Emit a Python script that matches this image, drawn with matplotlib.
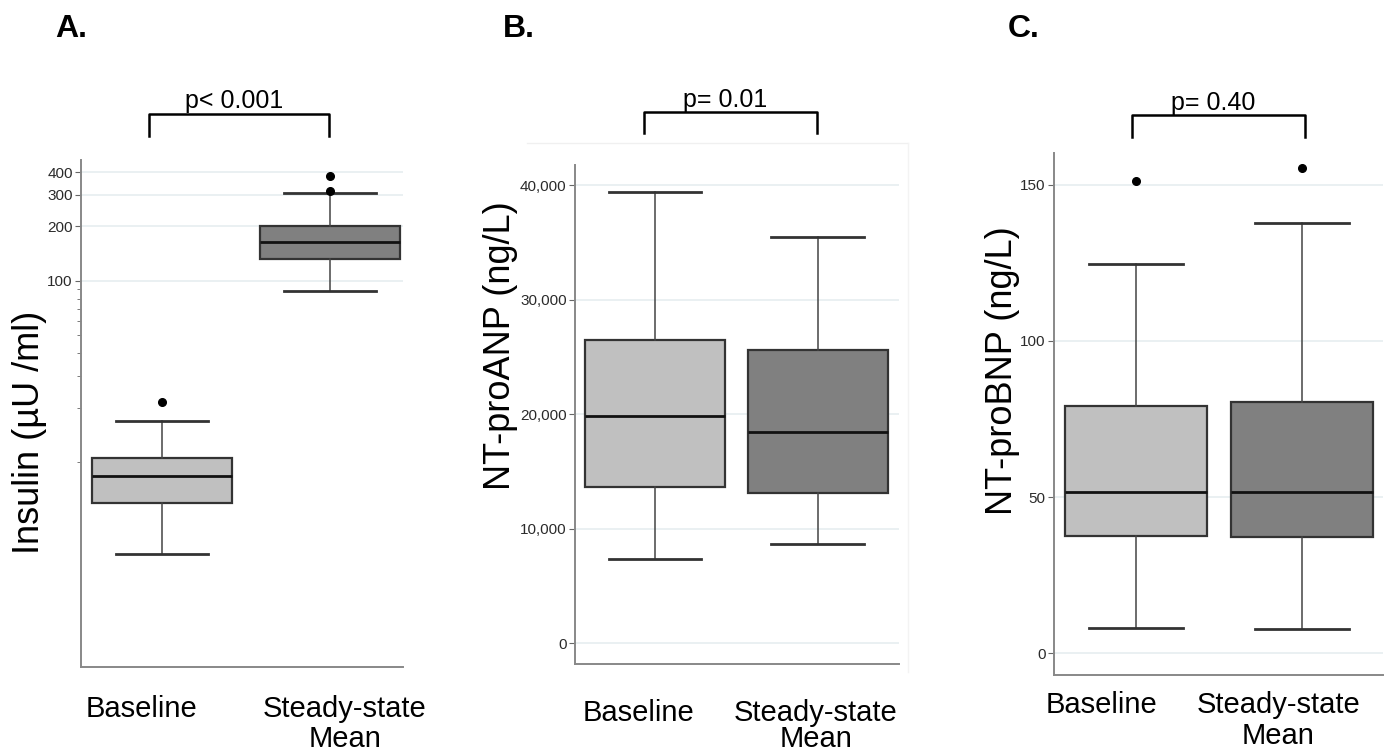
import numpy as np
import matplotlib
matplotlib.use('Agg')
import matplotlib.pyplot as plt
from matplotlib.lines import Line2D
from matplotlib.ticker import FuncFormatter, NullFormatter

plt.rcParams['font.family'] = ['Liberation Sans', 'DejaVu Sans']

#%% data

groups = ['Baseline', 'Steady-state Mean']

# A. insulin (µU/ml), log axis
ins_whislo = [3.1, 88]
ins_q1 = [5.9, 132]
ins_med = [8.4, 165]
ins_q3 = [10.5, 201]
ins_whishi = [16.8, 308]
ins_fliers = [[21.4], [315, 382]]

# B. NT-proANP (ng/L)
anp_whislo = [7300, 8650]
anp_q1 = [13600, 13100]
anp_med = [19850, 18450]
anp_q3 = [26500, 25550]
anp_whishi = [39350, 35450]
anp_fliers = [[], []]

# C. NT-proBNP (ng/L)
bnp_whislo = [8.0, 7.7]
bnp_q1 = [37.7, 37.3]
bnp_med = [51.7, 51.7]
bnp_q3 = [79.1, 80.5]
bnp_whishi = [124.5, 137.8]
bnp_fliers = [[151.2], [155.3]]

p_labels = ['p< 0.001', 'p= 0.01', 'p= 0.40']
panel_letters = ['A.', 'B.', 'C.']
ylabels = ['Insulin (µU /ml)', 'NT-proANP (ng/L)', 'NT-proBNP (ng/L)']

box_colors = ['#c0c0c0', '#808080']

#%% figure

W, H = 1388, 755
fig = plt.figure(figsize=(W / 100, H / 100), dpi=100)


def fx(x):
    return x / W


def fy(y):
    return 1 - y / H


def make_stats(lo, q1, med, q3, hi, fl):
    out = []
    for i in range(len(lo)):
        out.append(dict(whislo=lo[i], q1=q1[i], med=med[i], q3=q3[i],
                        whishi=hi[i], fliers=fl[i], label=groups[i]))
    return out


# axes boxes in pixel coords: left, right, top, bottom
ax_px = [(81, 403, 160, 667), (575, 899, 165, 664), (1054, 1383, 153, 675)]
xlims = [(0.518, 2.435), (0.508, 2.50), (0.505, 2.49)]
box_w = [0.83, 0.86, 0.857]
cap_w = [0.55, 0.57, 0.57]

stats = [make_stats(ins_whislo, ins_q1, ins_med, ins_q3, ins_whishi, ins_fliers),
         make_stats(anp_whislo, anp_q1, anp_med, anp_q3, anp_whishi, anp_fliers),
         make_stats(bnp_whislo, bnp_q1, bnp_med, bnp_q3, bnp_whishi, bnp_fliers)]

axes = []
for k in range(3):
    l, r, t, b = ax_px[k]
    ax = fig.add_axes([fx(l), fy(b), fx(r - l), (b - t) / H])
    axes.append(ax)
    if k == 0:
        ax.set_yscale('log')
    bp = ax.bxp(stats[k], positions=[1, 2], widths=box_w[k], capwidths=cap_w[k],
                patch_artist=True, showfliers=True,
                boxprops=dict(edgecolor='#333333', linewidth=1.6),
                medianprops=dict(color='#111111', linewidth=2),
                whiskerprops=dict(color='#444444', linewidth=1.1),
                capprops=dict(color='#333333', linewidth=2),
                flierprops=dict(marker='o', markerfacecolor='black',
                                markeredgecolor='black', markersize=5.5))
    for patch, c in zip(bp['boxes'], box_colors):
        patch.set_facecolor(c)
    ax.set_xlim(*xlims[k])
    ax.set_xticks([])
    for s in ['top', 'right']:
        ax.spines[s].set_visible(False)
    for s in ['left', 'bottom']:
        ax.spines[s].set_color('#888888')
        ax.spines[s].set_linewidth(1.4)
    ax.yaxis.grid(True, which='major', color='#e6eef0', linewidth=1.2)
    ax.set_axisbelow(True)
    ax.tick_params(axis='y', which='both', color='#666666', length=4,
                   labelcolor='#2b2b2b', labelsize=11, pad=2)

# A ticks
axes[0].set_ylim(0.737, 466)
axes[0].set_yticks([100, 200, 300, 400])
axes[0].set_yticks(np.arange(10, 100, 10), minor=True)
axes[0].yaxis.set_major_formatter(FuncFormatter(lambda v, p: f'{v:.0f}'))
axes[0].yaxis.set_minor_formatter(NullFormatter())
axes[0].tick_params(axis='y', which='minor', length=3)

# B ticks
axes[1].set_ylim(-1830, 41750)
axes[1].set_yticks([0, 10000, 20000, 30000, 40000])
axes[1].yaxis.set_major_formatter(FuncFormatter(lambda v, p: f'{v:,.0f}'))

# C ticks
axes[2].set_ylim(-6.9, 160.1)
axes[2].set_yticks([0, 50, 100, 150])
axes[2].yaxis.set_major_formatter(FuncFormatter(lambda v, p: f'{v:.0f}'))

# faint border around panel B
fig.add_artist(Line2D([fx(527), fx(908)], [fy(143), fy(143)], color='#f0f0f0', lw=1))
fig.add_artist(Line2D([fx(908), fx(908)], [fy(143), fy(672)], color='#f3f3f3', lw=1))

# panel letters
letter_x = [55, 503, 1008]
for k in range(3):
    fig.text(fx(letter_x[k]), fy(37), panel_letters[k], fontsize=23,
             fontweight='bold', va='baseline', ha='left')

# brackets and p values
brackets = [(149, 329, 114, 136), (644, 817, 112, 133), (1132, 1305, 115, 137)]
p_x = [234, 725, 1213]
p_y = [108, 107, 110]
for k in range(3):
    x0, x1, yt, yb = brackets[k]
    fig.add_artist(Line2D([fx(x0), fx(x0), fx(x1), fx(x1)],
                          [fy(yb), fy(yt), fy(yt), fy(yb)], color='black', lw=1.8))
    fig.text(fx(p_x[k]), fy(p_y[k]), p_labels[k], fontsize=18,
             ha='center', va='baseline')

# y labels
ylab_x = [30, 500, 1002]
ylab_y = [432, 346, 371]
for k in range(3):
    fig.text(fx(ylab_x[k]), fy(ylab_y[k]), ylabels[k], fontsize=26,
             rotation=90, ha='center', va='center')

# category labels
base_x = [141.5, 638.5, 1101.5]
base_y = [717, 721, 713]
ss_x = [345, 816, 1278.5]
mean_y = [747, 747, 744]
for k in range(3):
    fig.text(fx(base_x[k]), fy(base_y[k]), groups[0], fontsize=21,
             ha='center', va='baseline')
    fig.text(fx(ss_x[k]), fy(base_y[k]), 'Steady-state', fontsize=21,
             ha='center', va='baseline')
    fig.text(fx(ss_x[k]), fy(mean_y[k]), 'Mean', fontsize=21,
             ha='center', va='baseline')

fig.savefig('out.png', dpi=100)
